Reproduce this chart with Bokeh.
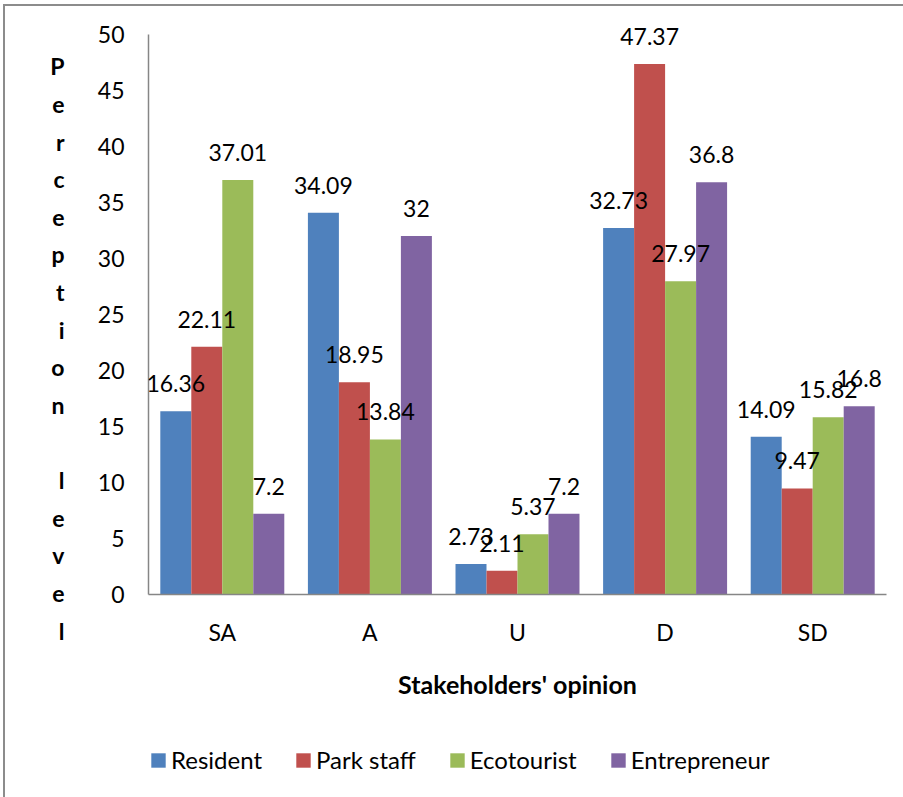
from bokeh.plotting import figure
from bokeh.layouts import column
from bokeh.models import (ColumnDataSource, FactorRange, Range1d, LabelSet, LinearAxis,
                          Legend, LegendItem, FixedTicker)
from bokeh.core.properties import value
from bokeh.transform import dodge
from bokeh.embed import file_html
from bokeh.resources import INLINE

categories = ["SA", "A", "U", "D", "SD"]
series_names = ["Resident", "Park staff", "Ecotourist", "Entrepreneur"]
resident = [16.36, 34.09, 2.73, 32.73, 14.09]
park_staff = [22.11, 18.95, 2.11, 47.37, 9.47]
ecotourist = [37.01, 13.84, 5.37, 27.97, 15.82]
entrepreneur = [7.2, 32, 7.2, 36.8, 16.8]
y_ticks = [0, 5, 10, 15, 20, 25, 30, 35, 40, 45, 50]
y_title = "Perception level"
x_title = "Stakeholders' opinion"

colors = ["#4F81BD", "#C0504D", "#9BBB59", "#8064A2"]
FONT = "Lato"
FS = "23px"

series_values = [resident, park_staff, ecotourist, entrepreneur]
bar_w = 0.21
offsets = [-1.5 * bar_w, -0.5 * bar_w, 0.5 * bar_w, 1.5 * bar_w]

FRAME_TOP = 6      # canvas px
FRAME_H = 582      # 11.2 px per unit -> 50 at canvas 28
FRAME_W = 738
BORDER_L, BORDER_R = 143, 17
MAIN_BOTTOM = 130
LEG_H = 73
y_hi = FRAME_H / 11.2

x_range = FactorRange(*categories, range_padding=0)
p = figure(x_range=x_range, y_range=Range1d(0, y_hi),
           frame_width=FRAME_W, frame_height=FRAME_H,
           output_backend="svg", toolbar_location=None,
           min_border_left=BORDER_L, min_border_top=FRAME_TOP, min_border_bottom=MAIN_BOTTOM,
           min_border_right=BORDER_R)
p.outline_line_color = None
p.grid.grid_line_color = None

# legend strip below the chart (shares the category scale; its y window lies above the data)
lg = figure(x_range=x_range, y_range=Range1d(60, 61), x_axis_type=None, y_axis_type=None,
            frame_width=FRAME_W, frame_height=LEG_H, output_backend="svg", toolbar_location=None,
            min_border=0, min_border_left=BORDER_L, min_border_right=BORDER_R)
lg.outline_line_color = None
lg.grid.grid_line_color = None

leg_renderers = []
for name, vals, off, col in zip(series_names, series_values, offsets, colors):
    src = ColumnDataSource(dict(cat=categories, val=vals, lab=[f"{v:g}" for v in vals]))
    p.vbar(x=dodge("cat", off, range=x_range), top="val", width=bar_w, source=src,
           fill_color=col, line_color=None)
    leg_renderers.append(lg.vbar(x=dodge("cat", off, range=x_range), top="val", width=bar_w,
                                 source=src, fill_color=col, line_color=None))
    ls = LabelSet(x=dodge("cat", off, range=x_range), y="val", text="lab", source=src,
                  y_offset=19, text_align="center", text_baseline="alphabetic",
                  text_font=value(FONT), text_font_size=value(FS), text_color="black")
    p.add_layout(ls)

def style_axis(ax):
    ax.major_tick_in = 0
    ax.major_tick_out = 0
    ax.minor_tick_in = 0
    ax.minor_tick_out = 0
    ax.major_label_text_font = FONT
    ax.major_label_text_font_size = FS
    ax.major_label_text_color = "black"

for ax in (p.xaxis[0], p.yaxis[0]):
    style_axis(ax)
    ax.axis_line_color = "#868686"
    ax.axis_line_width = 1.5

p.yaxis.ticker = FixedTicker(ticks=y_ticks, minor_ticks=[])
p.yaxis.bounds = (0, 50)
p.yaxis.major_label_standoff = 24
p.xaxis.major_label_standoff = 23
p.xaxis.axis_label = x_title
p.xaxis.axis_label_text_font = FONT
p.xaxis.axis_label_text_font_size = "25px"
p.xaxis.axis_label_text_font_style = "bold"
p.xaxis.axis_label_text_color = "black"
p.xaxis.axis_label_standoff = 20

# stacked y-axis title: one multi-line tick label on an extra axis (page-pixel range)
column_text = "\n".join(c if c != " " else " " for c in y_title)
TICK = 348.0
p.extra_y_ranges = {"letters": Range1d(start=FRAME_TOP + FRAME_H + 6, end=FRAME_TOP + 6)}
lax = LinearAxis(y_range_name="letters", ticker=FixedTicker(ticks=[TICK], minor_ticks=[]),
                 major_label_overrides={TICK: column_text})
style_axis(lax)
lax.axis_line_color = None
lax.major_label_text_font_style = "bold"
lax.major_label_text_line_height = 1.344
lax.major_label_standoff = 30
p.add_layout(lax, "left")

legend = Legend(items=[LegendItem(label=n, renderers=[r]) for n, r in zip(series_names, leg_renderers)],
                orientation="horizontal", location=(1, 23), padding=0, margin=0,
                border_line_color=None, background_fill_alpha=0,
                glyph_width=18, glyph_height=18, label_standoff=4, spacing=32,
                label_text_font=FONT, label_text_font_size="24px", label_text_color="black")
lg.add_layout(legend)

layout = column(p, lg, spacing=0, margin=(4, 0, 0, 3),
                styles={"border-top": "2px solid #8c8c8c", "border-left": "2px solid #8c8c8c"})

open("out.html", "w").write(file_html(layout, INLINE))
